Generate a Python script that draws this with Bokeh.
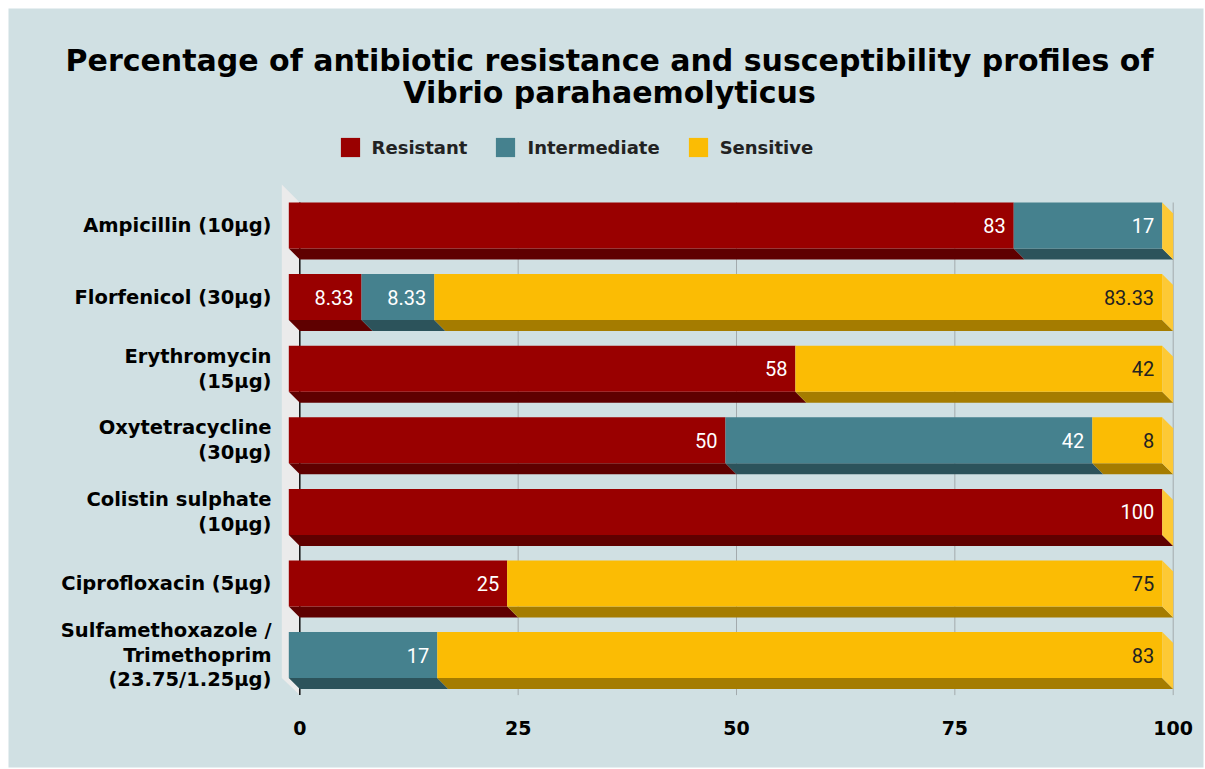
from bokeh.plotting import figure
from bokeh.models import Range1d, Legend, LegendItem, ColumnDataSource
from bokeh.core.properties import value
from bokeh.embed import file_html
from bokeh.resources import INLINE

# ---------------- data ----------------
categories = [
    "Ampicillin (10µg)",
    "Florfenicol (30µg)",
    "Erythromycin\n(15µg)",
    "Oxytetracycline\n(30µg)",
    "Colistin sulphate\n(10µg)",
    "Ciprofloxacin (5µg)",
    "Sulfamethoxazole /\nTrimethoprim\n(23.75/1.25µg)",
]
resistant = [83, 8.33, 58, 50, 100, 25, 0]
intermediate = [17, 8.33, 0, 42, 0, 0, 17]
sensitive = [0, 83.33, 42, 8, 0, 75, 83]
series_names = ["Resistant", "Intermediate", "Sensitive"]
x_ticks = [0, 25, 50, 75, 100]
title_lines = ["Percentage of antibiotic resistance and susceptibility profiles of",
               "Vibrio parahaemolyticus"]

# ---------------- styling ----------------
front_colors = ["#990000", "#45818e", "#fbbc04"]
bottom_colors = ["#5f0000", "#2c535b", "#a57c00"]
side_color = "#fdc935"
label_colors = ["#ffffff", "#ffffff", "#222222"]

PX = 8.734          # pixels per percent
PY = 71.6           # pixels per category row
X0_PX = 299.3       # page px of value 0
Y0_PX = 225.0       # page px of first row front centre
DX = 11 / PX        # 3D depth (x)
DY = 11 / PY        # 3D depth (y)
H = 23 / PY         # half bar height

def px2x(px):
    return (px - X0_PX) / PX

def py2y(py):
    return (py - Y0_PX) / PY

p = figure(width=1205, height=769,
           x_range=Range1d(px2x(8), px2x(1203)),
           y_range=Range1d(py2y(767), py2y(8)),
           x_axis_type=None, y_axis_type=None,
           toolbar_location=None, output_backend="svg",
           min_border_left=8, min_border_top=8, min_border_right=2, min_border_bottom=2,
           background_fill_color="#d0e0e3", border_fill_color="#ffffff",
           outline_line_color=None)

n = len(categories)
rows = list(range(n))

# grid / wall
g_top = -H
g_bot = (n - 1) + H + DY + 6 / PY
wall_d = 18
p.patch([px2x(X0_PX - wall_d), 0, 0, px2x(X0_PX - wall_d)],
        [g_top - wall_d / PY, g_top, g_bot, g_bot - (wall_d - 1) / PY],
        fill_color="#ebebeb", line_color=None)
p.segment(x0=x_ticks[1:], y0=[g_top] * (len(x_ticks) - 1), x1=x_ticks[1:],
          y1=[g_bot] * (len(x_ticks) - 1), line_color="#a2aaad", line_width=1)
p.segment(x0=[x_ticks[0]], y0=[g_top], x1=[x_ticks[0]], y1=[g_bot],
          line_color="#111111", line_width=1.5)

# stacked 3D bars
series = [resistant, intermediate, sensitive]
cum = [0.0] * n
renderers = []
for j, vals in enumerate(series):
    left = cum[:]
    right = [c + v for c, v in zip(cum, vals)]
    idx = [i for i in rows if vals[i] > 0]
    # bottom faces
    xs = [[left[i] - DX, right[i] - DX, right[i], left[i]] for i in idx]
    ys = [[i + H, i + H, i + H + DY, i + H + DY] for i in idx]
    p.patches(xs, ys, fill_color=bottom_colors[j], line_color=None)
    src = ColumnDataSource(dict(
        left=[left[i] - DX for i in idx], right=[right[i] - DX for i in idx],
        top=[i - H for i in idx], bottom=[i + H for i in idx]))
    r = p.quad(left="left", right="right", top="top", bottom="bottom", source=src,
               fill_color=front_colors[j], line_color=None)
    renderers.append(r)
    # value labels
    p.text(x=[right[i] - DX - 8 / PX for i in idx], y=idx,
           text=[("%g" % vals[i]) for i in idx],
           text_align="right", text_baseline="middle",
           text_font=value("Roboto"), text_font_size="20px",
           text_color=label_colors[j])
    cum = right

# end faces (last series)
xs = [[cum[i] - DX, cum[i], cum[i], cum[i] - DX] for i in rows]
ys = [[i - H, i - H + DY, i + H + DY, i + H] for i in rows]
p.patches(xs, ys, fill_color=side_color, line_color=None)

# category labels
p.text(x=[px2x(271)] * n, y=rows, text=categories,
       text_align="right", text_baseline="middle",
       text_font=value("DejaVu Sans"), text_font_style="bold",
       text_font_size="19.5px", text_color="#000000", text_line_height=1.08)

# x tick labels
p.text(x=x_ticks, y=[py2y(727)] * len(x_ticks), text=[str(t) for t in x_ticks],
       text_align="center", text_baseline="middle",
       text_font=value("DejaVu Sans"), text_font_style="bold",
       text_font_size="19px", text_color="#000000")

# title
p.text(x=[px2x(609)] * 2, y=[py2y(60), py2y(92)], text=title_lines,
       text_align="center", text_baseline="middle",
       text_font=value("DejaVu Sans"), text_font_style="bold",
       text_font_size="30px", text_color="#000000")

legend = Legend(items=[LegendItem(label=s, renderers=[r]) for s, r in zip(series_names, renderers)],
                orientation="horizontal", location=(329.6, 607.6),
                glyph_width=24, glyph_height=24, label_standoff=10, spacing=26,
                padding=0, margin=0, border_line_color=None, background_fill_alpha=0,
                label_text_font="DejaVu Sans", label_text_font_style="bold",
                label_text_font_size="18px", label_text_color="#222222")
p.add_layout(legend, "center")

open("out.html", "w").write(file_html(p, INLINE))
